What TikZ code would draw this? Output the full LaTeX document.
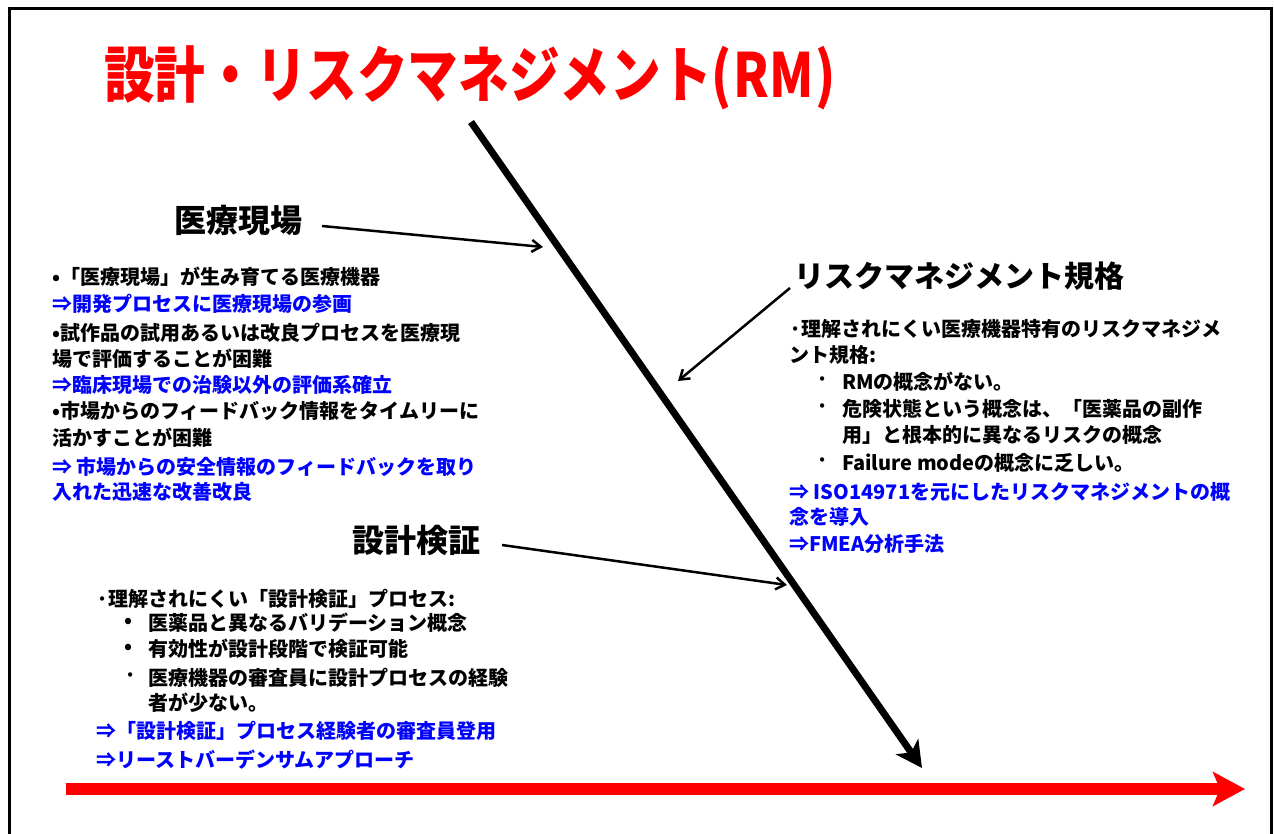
\documentclass[tikz,border=0pt]{standalone}
\usepackage{fontspec}
\newfontfamily\jp{Noto Sans CJK JP}
\usetikzlibrary{arrows.meta}
\begin{document}
\begin{tikzpicture}[x=1pt,y=-1pt,
  body/.style={anchor=west, inner sep=0pt, font=\jp\bfseries\fontsize{20}{24}\selectfont},
  bluebody/.style={body, text=blue},
  head/.style={inner sep=0pt, font=\jp\bfseries\fontsize{32}{36}\selectfont},
  thinarrow/.style={line width=2.5pt, -{Straight Barb[length=9pt,width=12pt]}},
  spine/.style={line width=7pt, -{Stealth[length=26pt,width=27pt,inset=7pt]}},
  timeline/.style={draw=red, line width=12pt, -{Stealth[length=32pt,width=34pt,inset=7pt]}},
  titlefont/.style={inner sep=0pt, font=\jp\bfseries}
]
\useasboundingbox (0,0) rectangle (1274,834);
\fill[white] (0,0) rectangle (1274,834);
% frame
\draw[line width=3pt] (9.5,840) -- (9.5,8.5) -- (1271.5,8.5) -- (1271.5,840);

% title
\node[titlefont, text=red] (title) at (470,78) {\scalebox{0.83}[1]{\fontsize{61}{64}\selectfont 設計・リスクマネジメント(\kern2pt RM\kern2pt)}};

% spine and timeline
\coordinate (spineStart) at (471,122);
\coordinate (spineEnd) at (922,768);
\draw[spine] (spineStart) -- (spineEnd);
\coordinate (timeStart) at (66,789);
\coordinate (timeEnd) at (1245,789);
\draw[timeline] (timeStart) -- (timeEnd);

% headings
\node[head] (hMed) at (238,220) {医療現場};
\node[head, font=\jp\bfseries\fontsize{30}{34}\selectfont] (hRisk) at (959,276) {リスクマネジメント規格};
\node[head] (hDes) at (416,540) {設計検証};

% branch arrows
\coordinate (aMedS) at (322,226);
\coordinate (aMedE) at (543,247);
\coordinate (aRiskS) at (790,288);
\coordinate (aRiskE) at (678,381);
\coordinate (aDesS) at (502,545);
\coordinate (aDesE) at (787,585);
\draw[thinarrow] (aMedS) -- (aMedE);
\draw[thinarrow] (aRiskS) -- (aRiskE);
\draw[thinarrow] (aDesS) -- (aDesE);

% left block
\node[body] (l1) at (52,277) {•「医療現場」が生み育てる医療機器};
\node[bluebody] (l2) at (52,304) {⇒開発プロセスに医療現場の参画};
\node[body] (l3) at (52,333) {•試作品の試用あるいは改良プロセスを医療現};
\node[body] (l4) at (52,359) {場で評価することが困難};
\node[bluebody] (l5) at (52,385) {⇒臨床現場での治験以外の評価系確立};
\node[body] (l6) at (52,411) {•市場からのフィードバック情報をタイムリーに};
\node[body] (l7) at (52,438) {活かすことが困難};
\node[bluebody] (l8) at (52,467) {⇒ 市場からの安全情報のフィードバックを取り};
\node[bluebody] (l9) at (52,492) {入れた迅速な改善改良};

% right block
\node[body] (r1) at (789,329) {·理解されにくい医療機器特有のリスクマネジメ};
\node[body] (r2) at (789,355) {ント規格:};
\node[body] (r3b) at (816,382) {·};
\node[body] (r3) at (842,382) {RMの概念がない。};
\node[body] (r4b) at (816,409) {·};
\node[body] (r4) at (842,409) {危険状態という概念は、「医薬品の副作};
\node[body] (r5) at (842,435) {用」と根本的に異なるリスクの概念};
\node[body] (r6b) at (816,463) {·};
\node[body] (r6) at (842,463) {Failure modeの概念に乏しい。};
\node[bluebody] (r7) at (789,492) {⇒ ISO14971を元にしたリスクマネジメントの概};
\node[bluebody] (r8) at (789,517) {念を導入};
\node[bluebody] (r9) at (789,544) {⇒FMEA分析手法};

% bottom-left block
\node[body] (d1) at (96,599) {·理解されにくい「設計検証」プロセス:};
\node[body] (d2b) at (124,623) {•};
\node[body] (d2) at (148,623) {医薬品と異なるバリデーション概念};
\node[body] (d3b) at (124,649) {•};
\node[body] (d3) at (148,649) {有効性が設計段階で検証可能};
\node[body] (d4b) at (124,678) {·};
\node[body] (d4) at (148,678) {医療機器の審査員に設計プロセスの経験};
\node[body] (d5) at (148,703) {者が少ない。};
\node[bluebody] (d6) at (96,731) {⇒「設計検証」プロセス経験者の審査員登用};
\node[bluebody] (d7) at (96,760) {⇒リーストバーデンサムアプローチ};
\end{tikzpicture}
\end{document}
